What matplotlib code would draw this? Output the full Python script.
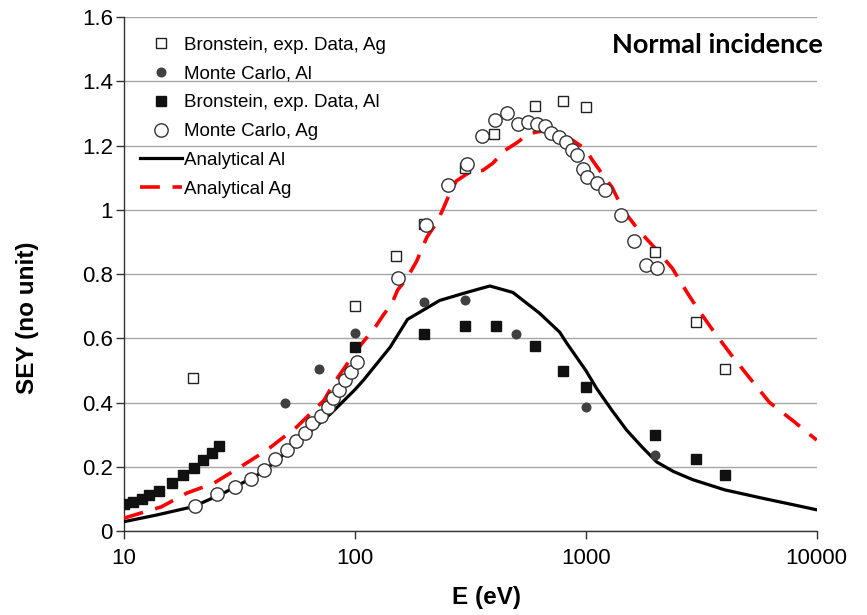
import numpy as np
import matplotlib.pyplot as plt
from matplotlib.ticker import FixedLocator, FuncFormatter

plt.rcParams['font.family'] = ['Liberation Sans', 'DejaVu Sans']

# Bronstein experimental data, Ag
bron_ag_E = [20, 100, 150, 200, 300, 400, 600, 800, 1000, 2000, 3000, 4000]
bron_ag_sey = [0.476, 0.70, 0.855, 0.955, 1.13, 1.236, 1.325, 1.34, 1.32, 0.87, 0.652, 0.506]

# Monte Carlo, Al
mc_al_E = [50, 70, 100, 200, 300, 500, 1000, 2000]
mc_al_sey = [0.398, 0.506, 0.616, 0.712, 0.718, 0.612, 0.385, 0.238]

# Bronstein experimental data, Al
bron_al_E = [10, 10.9, 12, 12.8, 14.2, 16.1, 18, 20.1, 22, 24, 25.8,
             100, 200, 300, 410, 600, 800, 1000, 2000, 3000, 4000]
bron_al_sey = [0.085, 0.09, 0.1, 0.112, 0.125, 0.149, 0.174, 0.196, 0.22, 0.243, 0.264,
               0.572, 0.613, 0.638, 0.638, 0.576, 0.497, 0.447, 0.298, 0.224, 0.174]

# Monte Carlo, Ag
mc_ag_E = [20.3, 25.3, 30.3, 35.5, 40.4, 45, 50.8, 55.6, 60.8, 65.2, 71.3, 76.4, 80.3,
           85.3, 90.6, 96, 102, 153, 203, 253, 305, 355, 404, 455, 508, 561, 614, 665,
           705, 764, 819, 869, 914, 970, 1009, 1116, 1209, 1418, 1625, 1815, 2030]
mc_ag_sey = [0.078, 0.114, 0.137, 0.162, 0.19, 0.224, 0.252, 0.28, 0.305, 0.335, 0.357,
             0.386, 0.414, 0.44, 0.47, 0.495, 0.525, 0.787, 0.952, 1.078, 1.143, 1.229,
             1.281, 1.302, 1.268, 1.273, 1.267, 1.26, 1.24, 1.226, 1.21, 1.186, 1.17,
             1.128, 1.103, 1.085, 1.063, 0.985, 0.902, 0.828, 0.82]

# Analytical Al
an_al_E = [10, 13.9, 20, 27, 40, 56, 79, 100, 109, 142, 169, 200, 233, 305, 384, 483,
           631, 771, 827, 1000, 1116, 1300, 1503, 1750, 2028, 2400, 2900, 4000, 6000,
           8000, 10000]
an_al_sey = [0.029, 0.05, 0.076, 0.118, 0.184, 0.273, 0.367, 0.44, 0.47, 0.572, 0.659,
             0.69, 0.718, 0.743, 0.763, 0.743, 0.678, 0.619, 0.585, 0.50, 0.443, 0.375,
             0.314, 0.262, 0.215, 0.185, 0.16, 0.128, 0.1, 0.081, 0.066]

# Analytical Ag
an_ag_E = [10, 14.5, 18.7, 24.5, 32, 41.6, 56, 73.5, 81, 100, 110, 120, 132, 145, 153,
           168, 185, 205, 225, 240, 257, 275, 313, 358, 395, 446, 505, 567, 645, 750,
           880, 994, 1070, 1210, 1300, 1450, 1700, 2000, 2370, 2750, 3000, 3550, 4280,
           5130, 6250, 7840, 10000]
an_ag_sey = [0.04, 0.075, 0.118, 0.149, 0.2, 0.252, 0.324, 0.407, 0.46, 0.555, 0.594,
             0.625, 0.67, 0.71, 0.75, 0.787, 0.84, 0.915, 0.958, 1.0, 1.05, 1.09, 1.117,
             1.123, 1.145, 1.185, 1.21, 1.238, 1.245, 1.238, 1.216, 1.19, 1.154, 1.10,
             1.07, 1.0, 0.935, 0.88, 0.818, 0.742, 0.70, 0.625, 0.547, 0.476, 0.40,
             0.345, 0.283]

fig = plt.figure(figsize=(8.67, 6.15), dpi=100)
ax = fig.add_axes([0.143, 0.1366, 0.799, 0.8354])

ax.plot(an_al_E, an_al_sey, color='black', lw=2.3, label='Analytical Al', zorder=3)
ax.plot(an_ag_E, an_ag_sey, color='#ff0000', lw=2.6, dashes=(5.5, 3.5),
        label='Analytical Ag', zorder=3)

ax.plot(bron_ag_E, bron_ag_sey, 's', ms=7.3, mfc='white', mec='#222222', mew=1.0,
        label='Bronstein, exp. Data, Ag', zorder=4)
ax.plot(mc_al_E, mc_al_sey, 'o', ms=6.2, color='#404040',
        label='Monte Carlo, Al', zorder=4)
ax.plot(bron_al_E, bron_al_sey, 's', ms=6.6, color='#111111',
        label='Bronstein, exp. Data, Al', zorder=4)
ax.plot(mc_ag_E, mc_ag_sey, 'o', ms=9.6, mfc='white', mec='#333333', mew=1.0,
        label='Monte Carlo, Ag', zorder=5)

ax.set_xscale('log')
ax.set_xlim(10, 10000)
ax.set_ylim(0, 1.6)
ax.xaxis.set_major_locator(FixedLocator([10, 100, 1000, 10000]))
ax.xaxis.set_minor_locator(FixedLocator([]))
ax.xaxis.set_major_formatter(FuncFormatter(lambda v, p: f"{v:g}"))
ax.set_yticks(np.arange(0, 1.61, 0.2))
ax.yaxis.set_major_formatter(FuncFormatter(lambda v, p: f"{v:g}"))
ax.tick_params(axis='both', labelsize=16, length=6, width=1, color='#333333')
ax.tick_params(axis='x', pad=6)
ax.tick_params(axis='y', pad=2)

ax.grid(True, axis='y', color='#a6a6a6', lw=1)
ax.set_axisbelow(True)
for s in ['top', 'right']:
    ax.spines[s].set_visible(False)
for s in ['left', 'bottom']:
    ax.spines[s].set_color('#333333')
    ax.spines[s].set_linewidth(1)

ax.set_xlabel('E (eV)', fontsize=17.5, fontweight='bold')
ax.set_ylabel('SEY (no unit)', fontsize=17.5, fontweight='bold')
ax.xaxis.set_label_coords(0.524, -0.108)
ax.yaxis.set_label_coords(-0.123, 0.416)

ax.text(1.009, 0.945, 'Normal incidence', transform=ax.transAxes, ha='right', va='center',
        fontsize=19.5, fontweight='bold', family=['Lato', 'DejaVu Sans'])

handles, labels = ax.get_legend_handles_labels()
order = [2, 3, 4, 5, 0, 1]
ax.legend([handles[i] for i in order], [labels[i] for i in order], loc='upper left',
          bbox_to_anchor=(0.023, 0.962), frameon=False, fontsize=13.5, handlelength=2.25,
          handletextpad=0.1, labelspacing=0.62, borderaxespad=0, borderpad=0)

fig.savefig('out.png', dpi=100)
